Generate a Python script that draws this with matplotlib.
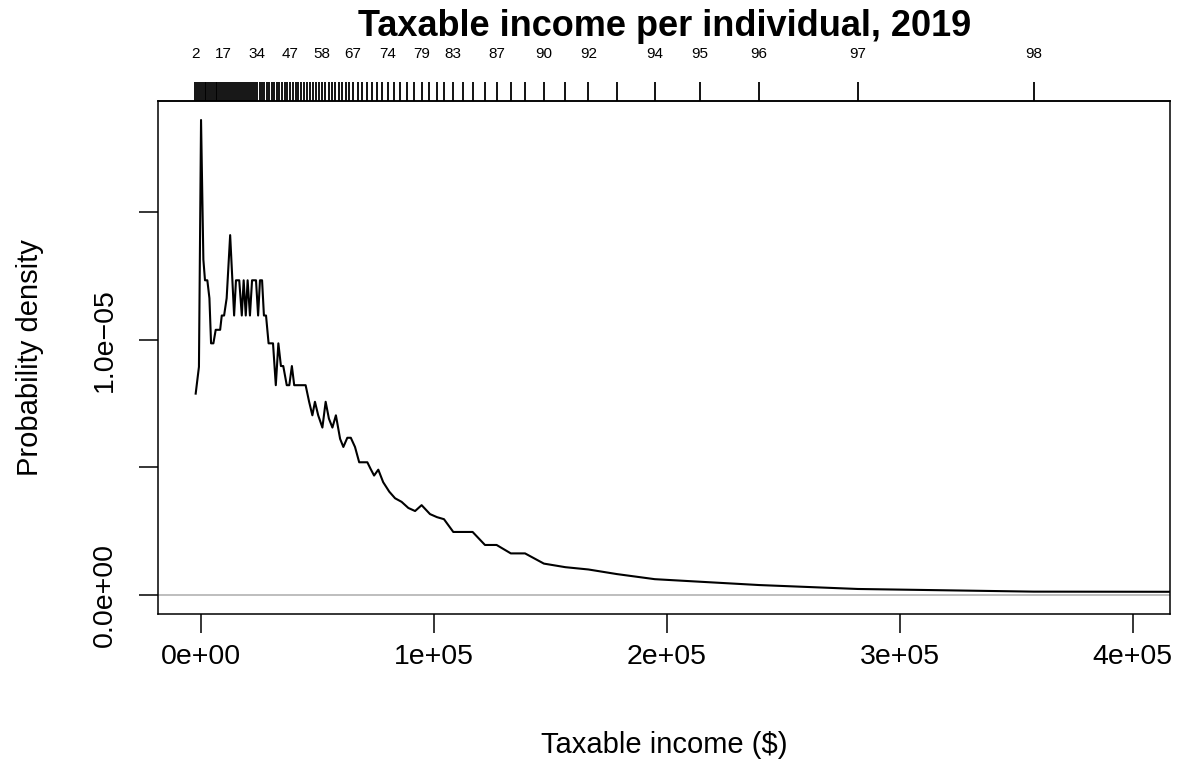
import numpy as np
import matplotlib.pyplot as plt

plt.rcParams['font.family'] = ['Liberation Sans', 'DejaVu Sans']

# percentile boundaries of taxable income (rug on the top axis), percentiles 2..99
percentiles = list(range(2, 100))
pct_income = [
    -2400, -1700, -900, -100, 700, 1500, 2300, 3100, 3900, 4700, 5500, 6300, 7000, 7900, 8600, 9400,
    10300, 11200, 12000, 12900, 13700, 14600, 15400, 16300, 17200, 18000, 18900, 19700, 20600,
    21500, 22300, 23200, 24000,
    25100, 26100, 27100, 28200, 29300, 30300, 31400, 32500, 33600, 34800, 35900, 37000, 38200,
    39400, 40600, 41800, 43000, 44200, 45500, 46700, 48000, 49300, 50600, 51900,
    53300, 54800, 56200, 57700, 59100, 60600, 62100, 63700, 65200,
    67200, 69200, 71200, 73400, 75700, 77900, 80300,
    82800, 85600, 88600, 91600, 94800,
    97900, 101100, 104300, 108300, 112300, 116600, 121900, 126900, 133000, 139100, 147200,
    156400, 166300, 178500, 194800, 214200, 239600, 282000, 357500, 500000,
]
# percentile labels that are printed (the rest overlap and are dropped)
shown_pct = [2, 17, 34, 47, 58, 67, 74, 79, 83, 87, 90, 92, 94, 95, 96, 97, 98]

# density curve: income and probability density (in units of 1e-6)
curve_income = [
    -2300, -900, 0, 1000, 1700, 2700, 3600, 4300, 5300, 6300, 7300, 8200, 8900, 9900, 11000,
    12500, 14200, 15000, 16400, 17500, 18300, 19200, 20000, 21000, 21900, 22800, 23600, 24500,
    25300, 26200, 27000, 27900, 29000, 30000, 30900, 32100, 33200, 34300, 35300, 36800, 37900,
    39000, 40000, 41200, 42500, 43800, 44900, 46400, 47800, 48900, 50300, 52100, 53500, 54900,
    56400, 57900, 59700, 61100, 62800, 64300, 66100, 67900, 69700, 71400, 72800, 74300, 76100,
    78200, 80800, 83300, 86100, 89000, 91900, 94700, 98300, 101300, 104300, 108300, 112300,
    116600, 121900, 126900, 133000, 139100, 147200, 156400, 166300, 178500, 194800, 214200,
    239600, 282000, 357500, 500000,
]
curve_density_e6 = [
    7.89, 8.94, 18.61, 13.14, 12.33, 12.33, 11.63, 9.86, 9.86, 10.39, 10.39, 10.39, 10.95, 10.95,
    11.63, 14.10, 10.95, 12.33, 12.33, 10.95, 12.33, 10.95, 12.33, 10.95, 12.33, 12.33, 12.33,
    10.95, 12.33, 12.33, 10.95, 10.95, 9.86, 9.86, 9.86, 8.22, 9.86, 8.97, 8.97, 8.22, 8.22, 8.97,
    8.22, 8.22, 8.22, 8.22, 8.22, 7.57, 7.04, 7.57, 7.04, 6.56, 7.57, 6.91, 6.56, 7.04, 6.12,
    5.80, 6.16, 6.16, 5.80, 5.20, 5.20, 5.20, 4.94, 4.68, 4.91, 4.42, 4.05, 3.79, 3.65, 3.41,
    3.29, 3.52, 3.17, 3.05, 2.97, 2.47, 2.47, 2.47, 1.96, 1.96, 1.63, 1.63, 1.23, 1.09, 1.00,
    0.82, 0.62, 0.52, 0.39, 0.236, 0.132, 0.117,
]

x_ticks = [0, 1e5, 2e5, 3e5, 4e5]
x_tick_labels = ['0e+00', '1e+05', '2e+05', '3e+05', '4e+05']
y_ticks = [0, 5e-6, 1e-5, 1.5e-5]
y_tick_labels = ['0.0e+00', '', '1.0e\u221205', '']

W, H = 1177, 765
fig = plt.figure(figsize=(W / 100, H / 100), dpi=100)
left, right, top, bottom = 158.2, 1170.2, 101, 614
ax = fig.add_axes([left / W, 1 - bottom / H, (right - left) / W, (bottom - top) / H])

density = np.array(curve_density_e6) * 1e-6

# R style limits: 4% padding around the range
x0, x1 = min(curve_income), 4e5
xpad = 0.04 * (x1 - x0)
ax.set_xlim(x0 - xpad, x1 + xpad)
y0, y1 = 0, density.max()
ypad = 0.04 * (y1 - y0)
ax.set_ylim(y0 - ypad, y1 + ypad)

ax.axhline(0, color='#BEBEBE', lw=1.4, zorder=1)
ax.plot(curve_income, density, color='black', lw=1.5, zorder=2)

ax.set_xticks(x_ticks)
ax.set_xticklabels(x_tick_labels)
ax.set_yticks(y_ticks)
ax.set_yticklabels(y_tick_labels, rotation=90, va='center')
ax.tick_params(axis='x', direction='out', length=13.7, width=1.1, labelsize=20.5, pad=8)
ax.tick_params(axis='y', direction='out', length=13.7, width=1.1, labelsize=20.5, pad=15)
for s in ax.spines.values():
    s.set_linewidth(1.1)

# percentile rug on the top axis
top_ax = ax.secondary_xaxis('top')
top_ax.set_xticks(pct_income)
top_ax.set_xticklabels([str(p) if p in shown_pct else '' for p in percentiles])
top_ax.tick_params(direction='out', length=13.7, width=1.3, labelsize=11, pad=15)
top_ax.spines['top'].set_linewidth(1.1)

cx = (left + right) / 2 / W
fig.text(cx, 1 - 27 / H, 'Taxable income per individual, 2019', ha='center', va='center',
         fontsize=26, fontweight='bold')
fig.text(cx, 1 - 745 / H, 'Taxable income ($)', ha='center', va='center', fontsize=21)
fig.text(30 / W, 1 - 358 / H, 'Probability density', ha='center', va='center',
         fontsize=21, rotation=90)

fig.savefig('out.png', dpi=100)
